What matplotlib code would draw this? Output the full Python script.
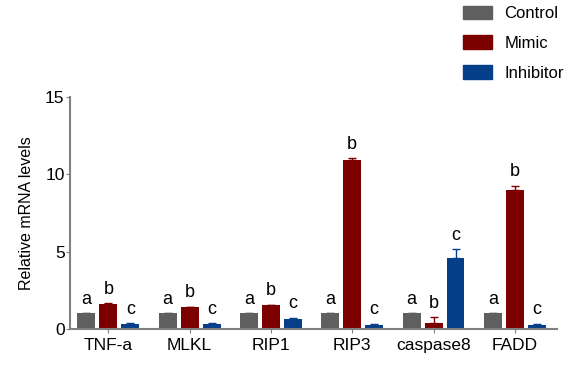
import numpy as np
import matplotlib
matplotlib.use('Agg')
import matplotlib.pyplot as plt
from matplotlib.patches import Patch

genes = ["TNF-a", "MLKL", "RIP1", "RIP3", "caspase8", "FADD"]
groups = ["Control", "Mimic", "Inhibitor"]
control = [1.0, 1.0, 1.0, 1.0, 1.0, 1.0]
mimic = [1.62, 1.38, 1.52, 10.9, 0.38, 9.0]
inhibitor = [0.3, 0.33, 0.65, 0.28, 4.55, 0.22]
control_err = [0.0, 0.0, 0.0, 0.0, 0.0, 0.0]
mimic_err = [0.04, 0.04, 0.05, 0.12, 0.38, 0.25]
inhibitor_err = [0.06, 0.04, 0.06, 0.04, 0.6, 0.12]
letters = [["a", "b", "c"]] * 6
colors = ["#5f5f5f", "#7d0000", "#053f8a"]

plt.rcParams['font.family'] = ['Liberation Sans', 'DejaVu Sans']

fig = plt.figure(figsize=(5.75, 3.67), dpi=100)
ax = fig.add_axes([0.122, 0.104, 0.847, 0.632])

x = np.arange(len(genes))
w = 0.22
step = 0.27
data = [control, mimic, inhibitor]
errs = [control_err, mimic_err, inhibitor_err]
for i in range(3):
    pos = x + (i - 1) * step
    ax.bar(pos, data[i], width=w, color=colors[i], zorder=2)
    ax.errorbar(pos, data[i], yerr=[np.zeros(len(genes)), errs[i]], fmt='none',
                ecolor=colors[i], elinewidth=1, capsize=3, capthick=1, zorder=3)
    for j in range(len(genes)):
        ax.text(pos[j], data[i][j] + errs[i][j] + 0.35, letters[j][i],
                ha='center', va='bottom', fontsize=13)

ax.set_xlim(-0.47, 5.52)
ax.set_ylim(0, 15)
ax.set_yticks([0, 5, 10, 15])
ax.set_xticks(x)
ax.set_xticklabels(genes, fontsize=12.5)
ax.tick_params(axis='y', labelsize=12.5, length=3, color='#808080', pad=1)
ax.tick_params(axis='x', length=3, color='#808080')
ax.set_ylabel("Relative mRNA levels", fontsize=11.5, labelpad=8)
for s in ['top', 'right']:
    ax.spines[s].set_visible(False)
for s in ['left', 'bottom']:
    ax.spines[s].set_color('#808080')
    ax.spines[s].set_linewidth(1.5)

handles = [Patch(color=c) for c in colors]
fig.legend(handles, groups, loc='upper left', bbox_to_anchor=(0.806, 0.985),
           frameon=False, fontsize=12, handlelength=1.7, handleheight=0.9,
           labelspacing=0.85, handletextpad=0.75, borderpad=0, borderaxespad=0)

fig.savefig("out.png", dpi=100)
